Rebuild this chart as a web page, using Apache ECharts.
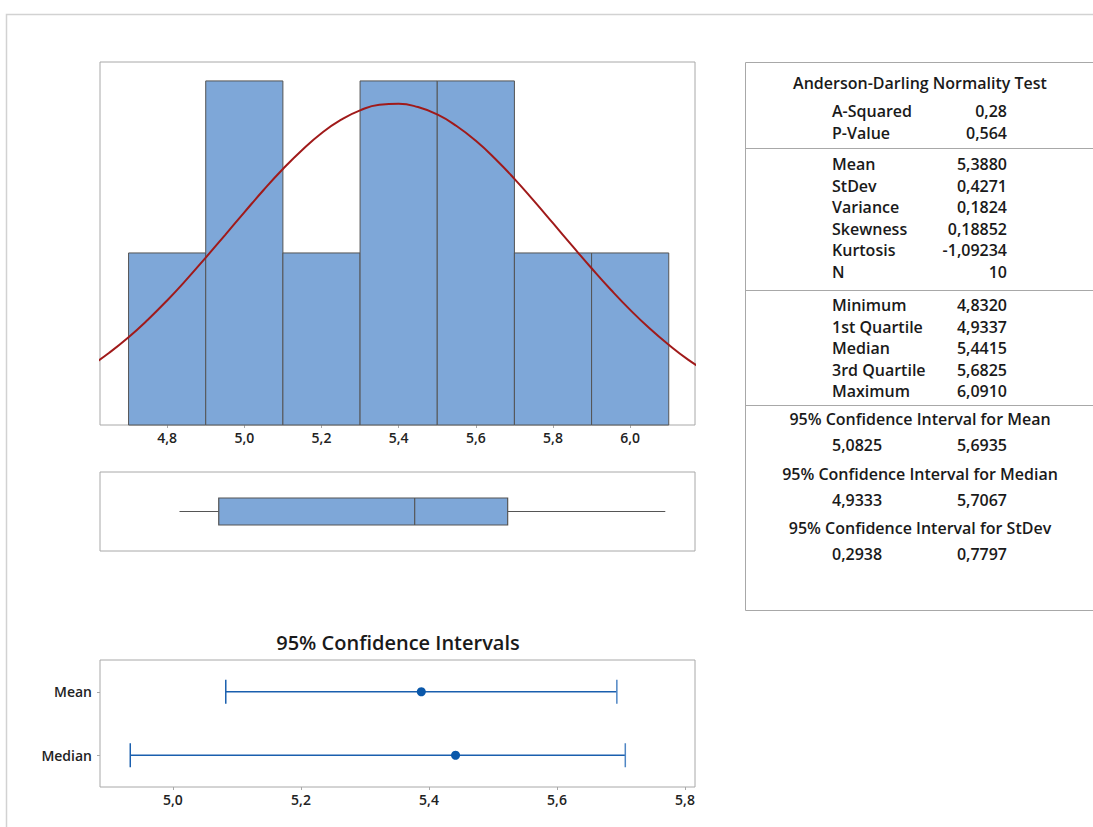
<!DOCTYPE html>
<html>
<head>
<meta charset="utf-8">
<script src="https://cdn.jsdelivr.net/npm/echarts@6/dist/echarts.min.js"></script>
<style>
  html, body { margin: 0; padding: 0; background: #ffffff; }
  #chart { width: 1093px; height: 827px; }
</style>
</head>
<body>
<div id="chart"></div>
<script>
// Histogram bins (bin start, common width, count)
const binStarts = [4.7, 4.9, 5.1, 5.3, 5.5, 5.7, 5.9];
const binWidth = 0.2;
const binCounts = [1, 2, 1, 2, 2, 1, 1];
const histTicks = [4.8, 5.0, 5.2, 5.4, 5.6, 5.8, 6.0];

// Fitted normal curve, in expected counts per bin
const curveX = [4.60, 4.65, 4.70, 4.75, 4.80, 4.85, 4.90, 4.95, 5.00, 5.05, 5.10,
                5.15, 5.20, 5.25, 5.30, 5.35, 5.40, 5.45, 5.50, 5.55, 5.60, 5.65,
                5.70, 5.75, 5.80, 5.85, 5.90, 5.95, 6.00, 6.05, 6.10, 6.15, 6.20];
const curveY = [0.341, 0.420, 0.510, 0.612, 0.724, 0.845, 0.973, 1.104, 1.236, 1.366, 1.488,
                1.599, 1.696, 1.773, 1.829, 1.861, 1.867, 1.848, 1.805, 1.738, 1.652, 1.548,
                1.431, 1.304, 1.173, 1.041, 0.911, 0.786, 0.669, 0.562, 0.466, 0.380, 0.307];

// Anderson-Darling test
const adLabels = ['A-Squared', 'P-Value'];
const adValues = [0.28, 0.564];
const adDecimals = [2, 3];

// Moments
const momentLabels = ['Mean', 'StDev', 'Variance', 'Skewness', 'Kurtosis', 'N'];
const momentValues = [5.3880, 0.4271, 0.1824, 0.18852, -1.09234, 10];
const momentDecimals = [4, 4, 4, 5, 5, 0];

// Five-number summary
const quantileLabels = ['Minimum', '1st Quartile', 'Median', '3rd Quartile', 'Maximum'];
const quantileValues = [4.8320, 4.9337, 5.4415, 5.6825, 6.0910];

// 95% confidence intervals
const ciTitles = ['95% Confidence Interval for Mean',
                  '95% Confidence Interval for Median',
                  '95% Confidence Interval for StDev'];
const ciLower = [5.0825, 4.9333, 0.2938];
const ciUpper = [5.6935, 5.7067, 0.7797];
const ciCategories = ['Mean', 'Median'];
const ciTicks = [5.0, 5.2, 5.4, 5.6, 5.8];

const FONT = '"Open Sans", "Noto Sans", sans-serif';
const fmt = (v, d) => v.toFixed(d).replace('.', ',');

const ciCenters = [momentValues[0], quantileValues[2]];

// ---------- summary panel text ----------
const panel = [];
function txt(text, x, y, align, size, weight) {
  panel.push({
    type: 'text', silent: true,
    style: {
      text: text, x: x, y: y, fill: '#1a1a1a',
      font: (weight || 600) + ' ' + (size || 16) + 'px ' + FONT,
      textAlign: align || 'left', textVerticalAlign: 'middle'
    }
  });
}
function hline(y) {
  panel.push({
    type: 'line', silent: true,
    shape: { x1: 745, y1: y, x2: 1100, y2: y },
    style: { stroke: '#a8a8a8', lineWidth: 1 }
  });
}
// outer frame
panel.push({
  type: 'rect', silent: true,
  shape: { x: 6.5, y: 14.5, width: 1100, height: 830 },
  style: { fill: 'none', stroke: '#d2d2d2', lineWidth: 1.5 }
});
// summary box
panel.push({
  type: 'rect', silent: true,
  shape: { x: 745.5, y: 62.5, width: 360, height: 548 },
  style: { fill: 'none', stroke: '#a8a8a8', lineWidth: 1 }
});
hline(148.5); hline(290.5); hline(405.5);

const LX = 832, RX = 1007, ROW = 21.6;
txt('Anderson-Darling Normality Test', 920, 83, 'center');
adLabels.forEach((l, i) => {
  txt(l, LX, 111 + i * ROW); txt(fmt(adValues[i], adDecimals[i]), RX, 111 + i * ROW, 'right');
});
momentLabels.forEach((l, i) => {
  txt(l, LX, 164 + i * ROW); txt(fmt(momentValues[i], momentDecimals[i]), RX, 164 + i * ROW, 'right');
});
quantileLabels.forEach((l, i) => {
  txt(l, LX, 305 + i * ROW); txt(fmt(quantileValues[i], 4), RX, 305 + i * ROW, 'right');
});
const ciTitleY = [419, 474, 528];
ciTitles.forEach((t, i) => {
  txt(t, 920, ciTitleY[i], 'center');
  txt(fmt(ciLower[i], 4), LX, ciTitleY[i] + 26);
  txt(fmt(ciUpper[i], 4), RX, ciTitleY[i] + 26, 'right');
});
// title of the interval plot
txt('95% Confidence Intervals', 398, 642, 'center', 20);

// ---------- chart ----------
const chart = echarts.init(document.getElementById('chart'), null, { renderer: 'svg' });

const X0 = 4.626, X1 = 6.168;
const labelStyle = { fontFamily: FONT, fontWeight: 600, fontSize: 14, color: '#222' };
const gridFrame = { show: true, borderColor: '#a8a8a8', borderWidth: 1, backgroundColor: '#fff' };

chart.setOption({
  animation: false,
  backgroundColor: '#ffffff',
  grid: [
    Object.assign({ left: 100, top: 62, width: 595, height: 363 }, gridFrame),
    Object.assign({ left: 100, top: 472, width: 595, height: 79 }, gridFrame),
    Object.assign({ left: 100, top: 660, width: 595, height: 127 }, gridFrame)
  ],
  xAxis: [
    {
      type: 'value', gridIndex: 0, min: X0, max: X1,
      splitLine: { show: false }, axisLine: { show: false },
      axisTick: { show: true, length: 3, lineStyle: { color: '#a8a8a8' }, customValues: histTicks },
      axisLabel: Object.assign({ margin: 5, customValues: histTicks, formatter: v => fmt(v, 1) }, labelStyle)
    },
    { type: 'value', gridIndex: 1, min: X0, max: X1, show: false },
    {
      type: 'value', gridIndex: 2, min: 4.886, max: 5.8156,
      splitLine: { show: false }, axisLine: { show: false },
      axisTick: { show: true, length: 3, lineStyle: { color: '#a8a8a8' }, customValues: ciTicks },
      axisLabel: Object.assign({ margin: 5, customValues: ciTicks, formatter: v => fmt(v, 1) }, labelStyle)
    }
  ],
  yAxis: [
    { type: 'value', gridIndex: 0, min: 0, max: 2.11, show: false },
    { type: 'value', gridIndex: 1, min: 0, max: 1, show: false },
    {
      type: 'category', gridIndex: 2, data: ciCategories, inverse: true,
      axisLine: { show: false }, splitLine: { show: false },
      axisTick: { show: true, length: 3, alignWithLabel: true, lineStyle: { color: '#a8a8a8' } },
      axisLabel: Object.assign({ margin: 8 }, labelStyle)
    }
  ],
  graphic: { elements: panel },
  series: [
    {
      name: 'Histogram', type: 'custom', xAxisIndex: 0, yAxisIndex: 0,
      data: binStarts.map((s, i) => [s, s + binWidth, binCounts[i]]),
      encode: { x: [0, 1], y: 2 },
      renderItem: (params, api) => {
        const a = api.coord([api.value(0), api.value(2)]);
        const b = api.coord([api.value(1), 0]);
        return {
          type: 'rect',
          shape: { x: a[0], y: a[1], width: b[0] - a[0], height: b[1] - a[1] },
          style: { fill: '#7ea7d8', stroke: '#545454', lineWidth: 1 }
        };
      },
      z: 2
    },
    {
      name: 'Normal fit', type: 'line', xAxisIndex: 0, yAxisIndex: 0,
      data: curveX.map((x, i) => [x, curveY[i]]),
      smooth: true, showSymbol: false, clip: true,
      lineStyle: { color: '#a01a1a', width: 2 },
      z: 5
    },
    {
      name: 'Boxplot', type: 'custom', xAxisIndex: 1, yAxisIndex: 1,
      data: [quantileValues],
      encode: { x: [0, 1, 2, 3, 4] },
      renderItem: (params, api) => {
        const px = [0, 1, 2, 3, 4].map(i => api.coord([api.value(i), 0.5])[0]);
        const cy = api.coord([api.value(0), 0.5])[1];
        const h = 13.5;
        const ln = '#555555';
        return {
          type: 'group',
          children: [
            { type: 'line', shape: { x1: px[0], y1: cy, x2: px[1], y2: cy }, style: { stroke: ln, lineWidth: 1 } },
            { type: 'line', shape: { x1: px[3], y1: cy, x2: px[4], y2: cy }, style: { stroke: ln, lineWidth: 1 } },
            { type: 'rect', shape: { x: px[1], y: cy - h, width: px[3] - px[1], height: 2 * h },
              style: { fill: '#7ea7d8', stroke: ln, lineWidth: 1.2 } },
            { type: 'line', shape: { x1: px[2], y1: cy - h, x2: px[2], y2: cy + h }, style: { stroke: ln, lineWidth: 1.2 } }
          ]
        };
      }
    },
    {
      name: 'Confidence intervals', type: 'custom', xAxisIndex: 2, yAxisIndex: 2,
      data: ciCategories.map((c, i) => [ciLower[i], ciUpper[i], ciCenters[i], i]),
      encode: { x: [0, 1, 2], y: 3 },
      renderItem: (params, api) => {
        const lo = api.coord([api.value(0), api.value(3)]);
        const hi = api.coord([api.value(1), api.value(3)]);
        const c = api.coord([api.value(2), api.value(3)]);
        const cap = 12;
        const blue = '#1a5fae';
        return {
          type: 'group',
          children: [
            { type: 'line', shape: { x1: lo[0], y1: lo[1], x2: hi[0], y2: hi[1] }, style: { stroke: blue, lineWidth: 1.5 } },
            { type: 'line', shape: { x1: lo[0], y1: lo[1] - cap, x2: lo[0], y2: lo[1] + cap }, style: { stroke: blue, lineWidth: 1.5 } },
            { type: 'line', shape: { x1: hi[0], y1: hi[1] - cap, x2: hi[0], y2: hi[1] + cap }, style: { stroke: '#4f86c4', lineWidth: 1.5 } },
            { type: 'circle', shape: { cx: c[0], cy: c[1], r: 4.5 }, style: { fill: '#0a58aa' } }
          ]
        };
      }
    }
  ]
});
</script>
</body>
</html>
